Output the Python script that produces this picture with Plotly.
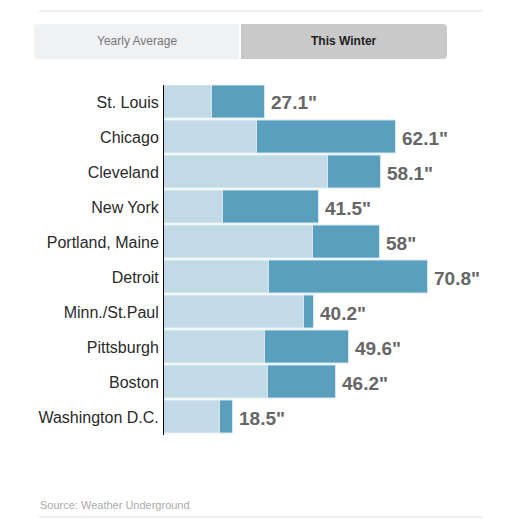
import plotly.graph_objects as go

cities = ["St. Louis", "Chicago", "Cleveland", "New York", "Portland, Maine",
          "Detroit", "Minn./St.Paul", "Pittsburgh", "Boston", "Washington D.C."]
yearly_avg = [12.9, 24.8, 43.9, 15.9, 39.9, 28.1, 37.4, 27.0, 27.8, 15.0]
this_winter = [27.1, 62.1, 58.1, 41.5, 58.0, 70.8, 40.2, 49.6, 46.2, 18.5]
value_labels = ['27.1"', '62.1"', '58.1"', '41.5"', '58"', '70.8"', '40.2"', '49.6"', '46.2"', '18.5"']
toggle_labels = ["Yearly Average", "This Winter"]
source_text = "Source: Weather Underground"

W = H = 529
LIGHT = "#c1dae6"
DARK = "#5b9fbe"
FONT = "Liberation Sans, Arial, Helvetica, sans-serif"

def px_x(x):
    return x / W

def px_y(y):
    return 1 - y / H

fig = go.Figure()
fig.add_trace(go.Bar(
    y=cities, x=yearly_avg, orientation="h", marker=dict(color=LIGHT, line=dict(color="#e6f0f5", width=1)),
    width=0.96, hoverinfo="skip", showlegend=False))
fig.add_trace(go.Bar(
    y=cities, x=[w - a for w, a in zip(this_winter, yearly_avg)], base=yearly_avg, orientation="h",
    marker=dict(color=DARK, line=dict(color="#d6e7ef", width=1)),
    width=0.96, hoverinfo="skip", showlegend=False))

x0 = 164
xmax = (W - x0) / 3.73

shapes = []
shapes.append(dict(type="line", xref="paper", yref="paper", x0=px_x(39), x1=px_x(483),
                   y0=px_y(11), y1=px_y(11), line=dict(color="#dddddd", width=1)))
shapes.append(dict(type="line", xref="paper", yref="paper", x0=px_x(39), x1=px_x(483),
                   y0=px_y(517), y1=px_y(517), line=dict(color="#dddddd", width=1)))

def rounded(xl, xr, yt, yb, r, left_round, right_round):
    P = lambda x, y: f"{px_x(x):.5f},{px_y(y):.5f}"
    d = []
    if left_round:
        d.append(f"M {P(xl, yt + r)} Q {P(xl, yt)} {P(xl + r, yt)}")
    else:
        d.append(f"M {P(xl, yt)}")
    if right_round:
        d.append(f"L {P(xr - r, yt)} Q {P(xr, yt)} {P(xr, yt + r)} L {P(xr, yb - r)} Q {P(xr, yb)} {P(xr - r, yb)}")
    else:
        d.append(f"L {P(xr, yt)} L {P(xr, yb)}")
    if left_round:
        d.append(f"L {P(xl + r, yb)} Q {P(xl, yb)} {P(xl, yb - r)} Z")
    else:
        d.append(f"L {P(xl, yb)} Z")
    return " ".join(d)

shapes.append(dict(type="path", xref="paper", yref="paper",
                   path=rounded(34, 239, 24, 59, 4, True, False),
                   fillcolor="#f0f1f3", line=dict(width=0)))
shapes.append(dict(type="path", xref="paper", yref="paper",
                   path=rounded(241, 447, 24, 59, 4, False, True),
                   fillcolor="#c9c9c9", line=dict(width=0)))

annotations = [
    dict(text=toggle_labels[0], x=px_x(136.5), y=px_y(41), xref="paper", yref="paper",
         showarrow=False, xanchor="center", yanchor="middle",
         font=dict(family=FONT, size=12, color="#777777")),
    dict(text=f"<b>{toggle_labels[1]}</b>", x=px_x(344), y=px_y(41), xref="paper", yref="paper",
         showarrow=False, xanchor="center", yanchor="middle",
         font=dict(family=FONT, size=12, color="#222222")),
    dict(text=source_text, x=px_x(38), y=px_y(505), xref="paper", yref="paper",
         showarrow=False, xanchor="left", yanchor="middle",
         font=dict(family=FONT, size=11, color="#aaaaaa")),
]
for city, val, lab in zip(cities, this_winter, value_labels):
    annotations.append(dict(text=f"<b>{lab}</b>", x=val, y=city, xref="x", yref="y",
                            showarrow=False, xanchor="left", yanchor="middle", xshift=4, yshift=-1,
                            font=dict(family=FONT, size=19, color="#666666")))

fig.update_layout(
    width=W, height=H, margin=dict(l=0, r=0, t=0, b=0),
    paper_bgcolor="white", plot_bgcolor="white",
    barmode="overlay", bargap=0,
    shapes=shapes, annotations=annotations,
    xaxis=dict(domain=[px_x(x0), 1], range=[0, xmax], visible=False, fixedrange=True),
    yaxis=dict(domain=[px_y(434.5), px_y(84.5)], range=[9.5, -0.5], type="category",
               categoryorder="array", categoryarray=cities,
               showline=True, linecolor="#000000", linewidth=1, showgrid=False, zeroline=False,
               ticks="", ticklabelstandoff=1,
               tickfont=dict(family=FONT, size=16, color="#2a2a2a"), fixedrange=True),
)

fig.write_html("out.html")
